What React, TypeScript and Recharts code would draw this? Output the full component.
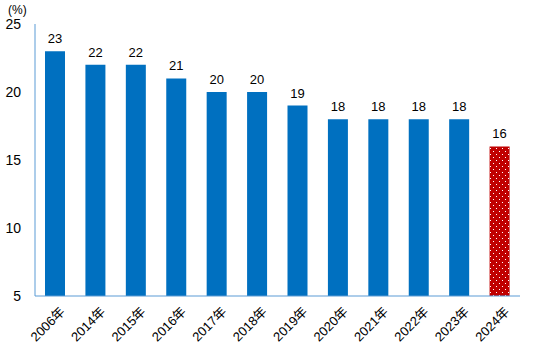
import { Bar, BarChart, Cell, LabelList, XAxis, YAxis } from "recharts";

const years = ["2006年", "2014年", "2015年", "2016年", "2017年", "2018年", "2019年", "2020年", "2021年", "2022年", "2023年", "2024年"];
const values = [23, 22, 22, 21, 20, 20, 19, 18, 18, 18, 18, 16];
const yTicks = [5, 10, 15, 20, 25];

const data = years.map((year, i) => ({ year, value: values[i] }));
const font = "'Liberation Sans', 'Noto Sans CJK JP', sans-serif";

export default function App() {
  return (
    <div style={{ position: "absolute", left: 0, top: 0, fontFamily: font }}>
      <BarChart width={535} height={357} data={data} margin={{ top: 24, right: 15, bottom: 0, left: 0 }}>
        <defs>
          <pattern id="dots" width="6" height="6" patternUnits="userSpaceOnUse">
            <rect width="6" height="6" fill="#c00000" />
            <rect x="1" y="1" width="1" height="1" fill="#ffffff" />
            <rect x="4" y="4" width="1" height="1" fill="#ffffff" />
          </pattern>
        </defs>
        <text x={8} y={14} fontSize={12} fill="#000" fontFamily={font}>(%)</text>
        <XAxis
          dataKey="year"
          height={61}
          interval={0}
          tickLine={false}
          axisLine={{ stroke: "#5b9bd5" }}
          tick={{ fontSize: 13, fill: "#000", fontFamily: font, angle: -45, textAnchor: "end", dy: 2, dx: 4 }}
        />
        <YAxis
          domain={[5, 25]}
          ticks={yTicks}
          width={35}
          tickLine={false}
          axisLine={{ stroke: "#5b9bd5" }}
          tick={{ fontSize: 14, fill: "#000", fontFamily: font, dx: -6 }}
        />
        <Bar dataKey="value" barSize={20} fill="#0070c0" isAnimationActive={false}>
          {data.map((d, i) => (
            <Cell key={d.year} fill={i === data.length - 1 ? "url(#dots)" : "#0070c0"} />
          ))}
          <LabelList dataKey="value" position="top" offset={8} fontSize={13} fill="#000" fontFamily={font} />
        </Bar>
      </BarChart>
    </div>
  );
}
